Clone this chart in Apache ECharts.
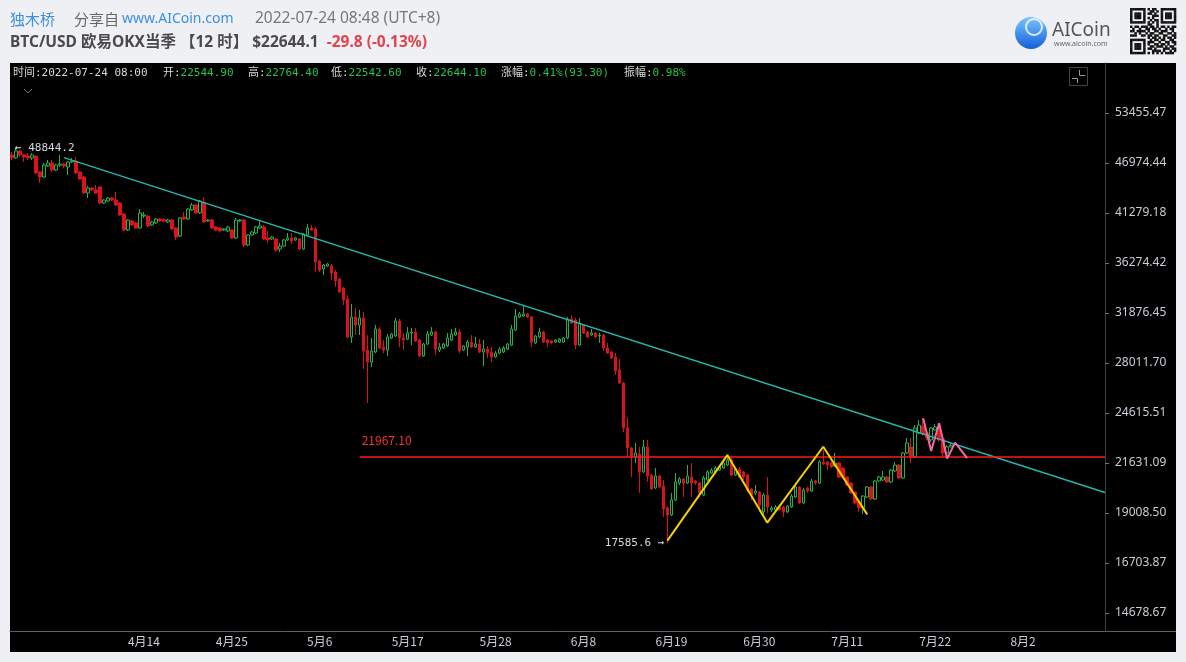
<!DOCTYPE html>
<html><head><meta charset="utf-8">
<script src="https://cdn.jsdelivr.net/npm/echarts@6/dist/echarts.min.js"></script>
<style>html,body{margin:0;padding:0;background:#eef0f4;}#c{width:1186px;height:662px;}</style>
</head><body><div id="c"></div>
<script>
// ---- data (BTC/USD OKX quarterly, 12h candles, prices) ----
const opens=[47960,47590,48460,47960,47830,47590,47830,45900,45310,46610,46970,46130,46730,46850,46490,47100,47220,45900,45310,43470,44040,43810,44150,42360,42580,42910,42690,42360,41170,39510,40440,40230,39710,40960,40960,40020,40230,40650,40600,40330,40540,39710,38900,40860,40650,41600,42140,41280,42470,40440,40540,39810,39710,39510,39400,39510,38700,40440,40540,38000,39000,39200,39710,39810,38700,38600,38600,37610,37900,38500,38700,38500,38600,37610,39000,39710,39610,36460,35720,35990,35990,35440,34810,34010,33050,29960,31550,30900,31470,28970,28080,28820,30590,29190,28970,29880,30040,31230,29880,29800,30270,30350,29730,28520,29420,30110,30350,28970,29120,29270,29730,30110,30350,28970,29190,29570,29190,29420,28820,29040,28820,28450,28740,28820,29040,29340,30510,31550,31630,31790,31550,29500,29960,30350,29730,29650,29570,29570,29570,29880,31390,31310,29340,30900,30350,30110,30270,30040,30110,29120,28820,28450,27510,26600,23680,22490,21970,22140,21140,22550,20970,20280,20920,20380,19260,18910,19660,20540,20760,20540,20860,20650,20540,19910,20700,21080,21140,21240,21350,21520,21800,20970,21300,21140,20970,20230,20020,20070,19060,19910,19160,19160,19310,19310,19060,19310,19810,20330,19510,20280,20120,20650,20540,21690,21690,21630,21460,21630,21350,20860,20540,20070,19560,19260,19810,20330,19710,20650,20700,20860,20600,21190,21520,20810,22200,22550,21970,23380,23800,23380,22960,23560,23680,23020,22200,22544.9];
const closes=[47590,48460,47960,47710,47590,47960,45780,45310,46730,46970,46130,46730,46850,46610,47100,47220,45780,45070,43470,44040,43810,43470,42360,42690,42910,42690,42140,41070,39510,40540,40020,39710,41280,41070,39920,40330,40650,40440,40420,40540,39610,38800,40750,40650,41710,42140,41280,42580,40330,40540,39710,39510,39400,39610,39810,38700,40540,40540,38000,39000,39300,39810,39920,38600,38500,38800,37510,37900,38500,38700,38400,38700,37610,39100,39710,39510,36370,35630,36090,36180,35350,34630,33660,32970,29960,31550,30900,31470,28890,28080,28890,30590,29120,28970,29960,30190,31230,29880,29730,30270,30350,29650,28520,29420,30190,30350,29040,29190,29420,29880,30190,30350,28890,29270,29570,29190,29420,28820,29040,28740,28450,28740,29040,29120,29420,30590,31630,31790,31790,31550,29570,30040,30350,29570,29500,29500,29730,29800,29880,31390,31060,29340,31060,30270,29960,30270,29960,30110,29120,28740,28380,27440,26600,23680,22490,21970,22200,21140,22550,20920,20230,20920,20330,19210,18910,19660,20600,20760,20540,20920,20540,20540,20020,20810,21140,21240,21350,21410,21630,21800,20970,21300,20860,20860,20170,19910,20120,19410,19910,19310,19260,19310,19160,19060,19360,19860,20330,19510,20170,20120,20650,20540,21690,21580,21520,21410,21630,20860,20860,20440,20020,19510,19260,19860,20330,19710,20650,20860,20860,20600,21240,21520,20810,22200,22780,21970,23680,23860,23320,23080,23680,23740,22960,22200,22550,22644.1];
const highs=[48330,48844.2,48580,48080,48200,48200,47900,46010,46970,47340,47340,46850,47960,46970,47220,47590,47710,46010,45420,44260,44150,44380,44260,42800,43020,43020,43580,42470,41280,40650,40540,40330,41710,41390,41070,40440,40750,40750,40720,40650,40650,39810,40860,41390,41820,42360,42250,42690,43020,40650,40650,39920,39810,39710,39920,39610,40750,40650,40650,39100,39400,39920,40440,40020,39400,38900,38700,38200,38600,39200,39200,38800,38700,39200,40120,40020,39810,36560,36180,36270,36180,35630,34900,34090,33390,32630,32290,32130,31960,30110,29880,30900,30740,29730,30190,30270,31470,31390,30270,30740,30660,30660,29800,29500,30430,30740,30430,29500,29500,30270,30590,30660,30590,29340,29730,30110,29960,29800,29730,29270,29190,28890,29190,29270,29500,30900,32210,31960,32540,31880,31630,30110,30660,30430,29800,29730,29800,29880,29960,31550,31710,31470,31470,30980,30430,30590,30350,30270,30190,29500,28890,28740,28300,26670,24360,22550,22780,22550,22960,22960,21030,21350,20970,20700,19360,20020,21080,20860,20810,21520,21630,20700,20600,20920,21240,21350,21460,21520,21740,21970,21910,21410,21410,21190,21030,20280,20440,20120,20020,20860,19360,19410,19360,19360,19410,19970,20440,20380,20280,20330,20760,20700,21800,22370,21740,21690,22200,21690,21410,20920,20600,20120,19610,19910,20380,20380,20700,20920,21190,20920,21300,21690,21580,22260,23080,23080,23860,24180,24300,23440,23740,23930,23860,23080,22660,22764.4];
const lows=[47340,47460,47710,47100,47340,47340,45660,44610,45190,46490,45900,46010,46490,46370,45540,46970,45660,44960,43360,42910,43700,43360,42250,42250,42470,42580,42030,40960,39400,39400,39920,39610,39610,40750,39810,39920,40120,40330,40310,40230,39510,38500,38800,40540,40540,41500,41170,41170,40230,40330,39610,39400,39350,39400,39300,38600,38600,40330,37810,37900,38900,39100,39610,38500,38200,38500,37320,37320,37810,38400,38100,38400,37510,37510,38900,39400,35440,35440,35170,35900,34720,34090,33570,32540,29880,29500,30110,30110,27580,25260,27720,28740,29040,28740,28520,29800,29960,29190,28970,29730,29340,29570,28450,28450,29340,30040,28600,28820,29040,29190,29650,30040,28740,28890,28520,29120,29120,28740,27800,28380,28080,28380,28670,28740,28970,29270,30430,31470,31550,31470,29190,29420,29880,29500,29190,29420,29500,29500,29500,29800,30980,29040,29270,30190,29880,30040,29880,29500,28890,28670,28300,27160,26530,23440,21970,20860,21630,20020,21080,20600,20170,20230,20280,18810,17585.6,18860,19610,20440,19810,20490,19810,20440,19810,19860,20650,21030,21080,21190,21300,21460,20920,20920,20810,20700,20070,19660,19910,19060,18810,19010,19060,19110,19110,18810,19010,19260,19760,19460,19460,20020,20070,20440,20490,21520,21240,21350,21410,20810,20760,20380,19970,19460,19060,18960,19760,19660,19660,20600,20650,20540,20540,21140,20760,20760,22140,21630,21910,23320,23200,22960,22840,23500,22840,21910,22080,22542.6];
const yTickLabels=['14678.67','16703.87','19008.50','21631.09','24615.51','28011.70','31876.45','36274.42','41279.18','46974.44','53455.47'];
const xTickLabels=['4月14','4月25','5月6','5月17','5月28','6月8','6月19','6月30','7月11','7月22','8月2'];
const slotCount=274;                    // 12h slots on the time axis (incl. empty future)
const firstSlotUTC=Date.UTC(2022,2,28,12,0); // 2022-03-28 20:00 UTC+8
const yRange=[14012,60830];
const levelValue=21967.10, levelStart=87;
const trendPoints=[[13,47630],[273.5,20040]];
const yellowPoints=[[164,17700],[179,22080],[189,18540],[203,22560],[214,18940]];
const pinkPoints=[[228,24280],[230,22310],[232,23970],[234,21880],[236,22800],[239,21900]];
const highMark={index:1,value:48844.2}, lowMark={index:164,value:17585.6};
const infoItems=[['时间:','2022-07-24 08:00',false],['开:','22544.90',true],['高:','22764.40',true],['低:','22542.60',true],['收:','22644.10',true],['涨幅:','0.41%(93.30)',true],['振幅:','0.98%',true]];
// ------------------------------------------------------------
const L=Math.log;
const pad=n=>(n<10?'0':'')+n;
const categories=[];
for(let k=0;k<slotCount;k++){const d=new Date(firstSlotUTC+k*43200000+8*3600000);
  categories.push(d.getUTCFullYear()+'-'+pad(d.getUTCMonth()+1)+'-'+pad(d.getUTCDate())+' '+pad(d.getUTCHours())+':00');}
const shortLabel=c=>(+c.slice(5,7))+'月'+(+c.slice(8,10));
const candles=opens.map((o,i)=>[L(o),L(closes[i]),L(lows[i]),L(highs[i])]);
const yTickValues=yTickLabels.map(s=>L(parseFloat(s)));
function tickLabel(v){let b=0;for(let i=1;i<yTickValues.length;i++)if(Math.abs(yTickValues[i]-v)<Math.abs(yTickValues[b]-v))b=i;return yTickLabels[b];}
const toXY=p=>[p[0],L(p[1])];
const GREEN='#22b14c', RED='#d8141a';
const mono="'DejaVu Sans Mono','Noto Sans CJK SC',monospace";
const cjk="'Noto Sans CJK SC','Noto Sans',sans-serif";
const latin="'Noto Sans','Noto Sans CJK SC',sans-serif";

// header / decoration graphics
const infoX=[13,163,248,331,416,501,624];
const graphics=[
 {type:'rect',shape:{x:10,y:63,width:1166,height:589},style:{fill:'#000'},z:-10,silent:true},
 {type:'line',shape:{x1:1105,y1:631.5,x2:1176,y2:631.5},style:{stroke:'#5c6068',lineWidth:1}},
 {type:'text',x:10,y:19,style:{text:'独木桥',font:'15px '+cjk,fill:'#3d8fe0',verticalAlign:'middle'}},
 {type:'text',x:74,y:19,style:{text:'分享自',font:'15px '+cjk,fill:'#666',verticalAlign:'middle'}},
 {type:'text',x:122,y:19,style:{text:'www.AICoin.com',font:'14px '+latin,fill:'#3d8fe0',verticalAlign:'middle'}},
 {type:'text',x:255,y:19,style:{text:'2022-07-24 08:48 (UTC+8)',font:'15.5px '+latin,fill:'#777',verticalAlign:'middle'}},
 {type:'text',x:10,y:43,style:{text:'{d|BTC/USD 欧易OKX当季 【12 时】 $22644.1}{r|  -29.8 (-0.13%)}',verticalAlign:'middle',
   rich:{d:{fontFamily:latin,fontWeight:'bold',fontSize:15.5,fill:'#4a4a4a'},r:{fontFamily:latin,fontWeight:'bold',fontSize:15.5,fill:'#e0434f'}}}},
 {type:'polyline',shape:{points:[[24,89],[28,93],[32,89]]},style:{stroke:'#777',lineWidth:1,fill:null}},
 {type:'rect',shape:{x:1069.5,y:67.5,width:18,height:18},style:{stroke:'#444',fill:null,lineWidth:1}},
 {type:'polyline',shape:{points:[[1072,78.5],[1077.5,78.5],[1077.5,83]]},style:{stroke:'#999',fill:null,lineWidth:1}},
 {type:'polyline',shape:{points:[[1079.5,70],[1079.5,75.5],[1085,75.5]]},style:{stroke:'#999',fill:null,lineWidth:1}},
 {type:'circle',shape:{cx:1031,cy:33,r:16},style:{fill:new echarts.graphic.LinearGradient(0,0,0,1,[{offset:0,color:'#7cc4ff'},{offset:1,color:'#1360d6'}])}},
 {type:'circle',shape:{cx:1034,cy:27,r:8},style:{fill:null,stroke:'rgba(255,255,255,0.8)',lineWidth:2}},
 {type:'text',x:1052,y:31,style:{text:'AICoin',font:'19px Noto Sans',fill:'#555',verticalAlign:'middle'}},
 {type:'text',x:1054,y:44,style:{text:'www.aicoin.com',font:'7px Noto Sans',fill:'#666',verticalAlign:'middle'}}
];
infoItems.forEach((it,i)=>{graphics.push({type:'text',x:infoX[i],y:73,style:{text:'{a|'+it[0]+'}{'+(it[2]?'g':'a')+'|'+it[1]+'}',verticalAlign:'middle',
  rich:{a:{fontFamily:mono,fontSize:11,fill:'#d8d8d8'},g:{fontFamily:mono,fontSize:11,fill:'#27c24c'}}}});});
// QR-like decoration
const qr=['111111101011001111111','100000100110101000001','101110101101001011101','101110100011101011101','101110101010001011101','100000100101101000001','111111101010101111111','000000001100100000000','101101110110101101011','010010011011010010110','110111101001101110010','001010010110011001101','111001101101100110011','000000001011010101101','111111100101101100110','100000101110010011011','101110101001101101001','101110100110111010110','101110101101000111011','100000100011110100101','111111101010101011110'];
const qm=46/21;
qr.forEach((row,r)=>{for(let c=0;c<21;c++)if(row[c]==='1')graphics.push({type:'rect',shape:{x:1130+c*qm,y:8+r*qm,width:qm+0.3,height:qm+0.3},style:{fill:'#111'}});});

const chart=echarts.init(document.getElementById('c'),null,{renderer:'canvas'});
chart.setOption({
 animation:false,
 backgroundColor:'#eef0f4',
 graphic:graphics,
 grid:{left:10,right:81,top:63,bottom:31,containLabel:false},
 xAxis:[
  {type:'category',data:categories,boundaryGap:true,
   axisLine:{show:true,onZero:false,lineStyle:{color:'#5c6068'}},axisTick:{show:false},splitLine:{show:false},
   axisLabel:{interval:(idx,val)=>val.slice(11)==='08:00'&&xTickLabels.includes(shortLabel(val)),
     formatter:v=>shortLabel(v),color:'#c9cdd6',fontSize:12,fontFamily:cjk,margin:4}},
  {type:'value',min:-0.5,max:slotCount-0.5,show:false,axisLine:{onZero:false}}
 ],
 yAxis:{type:'value',position:'right',min:L(yRange[0]),max:L(yRange[1]),splitLine:{show:false},
   axisLine:{show:true,onZero:false,lineStyle:{color:'#3c3f46'}},
   axisTick:{show:true,length:4,lineStyle:{color:'#6a6e76'},customValues:yTickValues},
   axisLabel:{customValues:yTickValues,formatter:v=>tickLabel(v),color:'#c9cdd6',fontSize:12,fontFamily:'Noto Sans',margin:10}},
 series:[
  {type:'candlestick',data:candles,barWidth:3,
   itemStyle:{color:'#000',color0:RED,borderColor:GREEN,borderColor0:RED,borderWidth:1},
   markPoint:{symbol:'circle',symbolSize:0,animation:false,
    data:[
     {coord:[highMark.index,L(highMark.value)],label:{show:true,formatter:'← '+highMark.value.toFixed(1),position:[-1,0],align:'left',verticalAlign:'middle',color:'#d6dae3',fontFamily:mono,fontSize:11}},
     {coord:[lowMark.index,L(lowMark.value)],label:{show:true,formatter:lowMark.value.toFixed(1)+' →',position:[-3,0],align:'right',verticalAlign:'middle',color:'#d6dae3',fontFamily:mono,fontSize:11}}
    ]}},
  {type:'line',xAxisIndex:1,data:trendPoints.map(toXY),symbol:'none',lineStyle:{color:'#26b5ad',width:1.5},z:5,silent:true},
  {type:'line',xAxisIndex:1,data:[[levelStart,L(levelValue)],[slotCount-0.5,L(levelValue)]],symbol:'none',lineStyle:{color:'#ff1a1a',width:1.5},z:5,silent:true,
   markPoint:{symbol:'circle',symbolSize:0,data:[{coord:[levelStart,L(levelValue)],label:{show:true,formatter:levelValue.toFixed(2),position:[2,-17],align:'left',verticalAlign:'middle',color:'#ff3030',fontFamily:cjk,fontSize:12}}]}},
  {type:'line',xAxisIndex:1,data:yellowPoints.map(toXY),symbol:'none',lineStyle:{color:'#f5d000',width:2},z:6,silent:true},
  {type:'line',xAxisIndex:1,data:pinkPoints.map(toXY),symbol:'none',lineStyle:{color:'#f06aa8',width:2},z:6,silent:true}
 ]
});
</script></body></html>
